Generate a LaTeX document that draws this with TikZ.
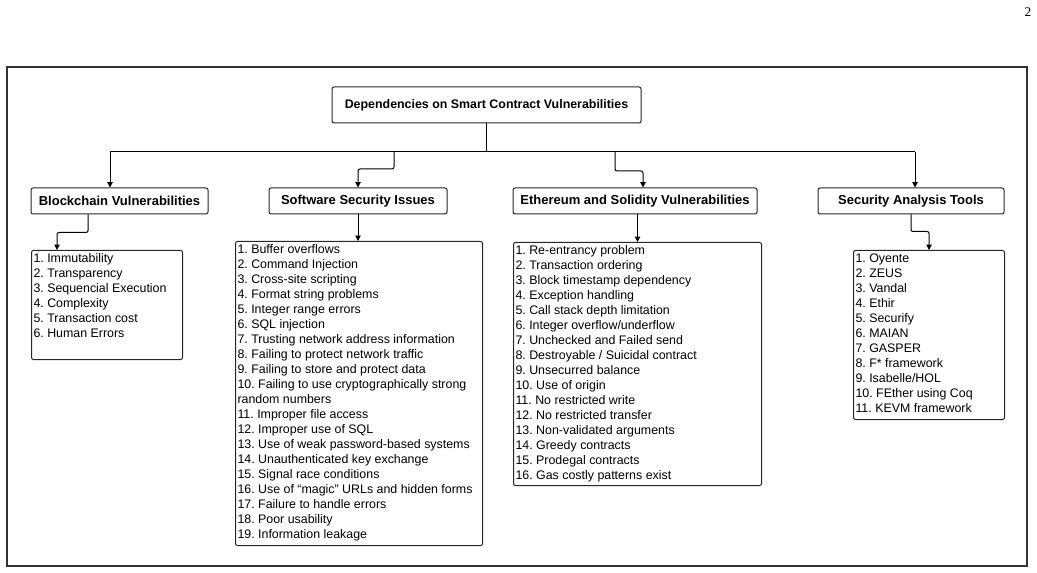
\documentclass[tikz,border=0pt]{standalone}
\usepackage{fontspec}
\setmainfont{Liberation Sans}
\newfontfamily\pagefont{Liberation Serif}
\usetikzlibrary{arrows.meta}
\frenchspacing
\tikzstyle{hdr}=[draw=black!85,line width=.75pt,rounded corners=1.5pt,inner sep=0pt,font=\fontsize{9.75}{11}\bfseries\selectfont]
\tikzstyle{lst}=[draw=black!85,line width=.75pt,rounded corners=1.5pt,anchor=north west,inner xsep=1.5pt,inner ysep=2.5pt,font=\fontsize{9.3}{11.25}\selectfont]
\tikzstyle{conn}=[line width=.75pt,rounded corners=1.5pt]
\tikzstyle{tip}=[conn,-{Triangle[length=4pt,width=4pt]}]
\newcommand\items[3]{\parbox[t][#2][t]{#1}{\raggedright\frenchspacing #3}}

\begin{document}
\begin{tikzpicture}[x=0.75pt,y=-0.75pt]
	\useasboundingbox (0,0) rectangle (1037,573);
	\node[font=\pagefont\fontsize{10}{12}\selectfont] (pg) at (1028,12) {2};
	\draw[line width=.85pt,black!80] (7,67) rectangle (1027,566);
	% headings
	\node[hdr,minimum width=231.75pt,minimum height=27pt,font=\fontsize{9.3}{11}\bfseries\selectfont] (title) at (486.5,105) {Dependencies on Smart Contract Vulnerabilities};
	\node[hdr,minimum width=132.75pt,minimum height=19.5pt] (bc)  at (119.5,201) {Blockchain Vulnerabilities};
	\node[hdr,minimum width=133.5pt, minimum height=19.5pt] (ss)  at (358,201)   {Software Security Issues};
	\node[hdr,minimum width=183pt,   minimum height=19.5pt] (eth) at (635,201)   {Ethereum and Solidity Vulnerabilities};
	\node[hdr,minimum width=139.5pt, minimum height=19.5pt] (sat) at (911,201)   {Security Analysis Tools};
	% lists
	\node[lst] (bcl) at (31,250) {\items{110.25pt}{76.75pt}{1. Immutability\\2. Transparency\\3. Sequencial Execution\\4. Complexity\\5. Transaction cost\\6. Human Errors}};
	\node[lst] (ssl) at (235,241) {\items{182.25pt}{223pt}{1. Buffer overflows\\2. Command Injection\\3. Cross-site scripting\\4. Format string problems\\5. Integer range errors\\6. SQL injection\\7. Trusting network address information\\8. Failing to protect network traffic\\9. Failing to store and protect data\\10. Failing to use cryptographically strong\\random numbers\\11. Improper file access\\12. Improper use of SQL\\13. Use of weak password-based systems\\14. Unauthenticated key exchange\\15. Signal race conditions\\16. Use of “magic” URLs and hidden forms\\17. Failure to handle errors\\18. Poor usability\\19. Information leakage}};
	\node[lst] (ethl) at (513,242) {\items{183pt}{177.25pt}{1. Re-entrancy problem\\2. Transaction ordering\\3. Block timestamp dependency\\4. Exception handling\\5. Call stack depth limitation\\6. Integer overflow/underflow\\7. Unchecked and Failed send\\8. Destroyable / Suicidal contract\\9. Unsecurred balance\\10. Use of origin\\11. No restricted write\\12. No restricted transfer\\13. Non-validated arguments\\14. Greedy contracts\\15. Prodegal contracts\\16. Gas costly patterns exist}};
	\node[lst] (satl) at (853,250) {\items{110.25pt}{121.75pt}{1. Oyente\\2. ZEUS\\3. Vandal\\4. Ethir\\5. Securify\\6. MAIAN\\7. GASPER\\8. F* framework\\9. Isabelle/HOL\\10. FEther using Coq\\11. KEVM framework}};
	% connectors
	\coordinate (j1) at (110,152);
	\coordinate (j2) at (394,152);
	\coordinate (j3) at (615,152);
	\coordinate (j4) at (915,152);
	\draw[conn] (title.south) -- (title.south |- j1);
	\draw[conn] (j1) -- (j4);
	\draw[tip] (j1) -- (j1 |- bc.north);
	\draw[tip] (j2) -- ++(0,17) -| (ss.north);
	\draw[tip] (j3) -- ++(0,19) -| ([xshift=6pt]eth.north);
	\draw[tip] (j4) -- (j4 |- sat.north);
	\draw[tip] ([xshift=-23.6pt]bc.south) -- ++(0,18) -| ([xshift=19.5pt]bcl.north west);
	\draw[tip] (ss.south) -- (ss.south |- ssl.north);
	\draw[tip] (eth.south -| ethl.north) -- (ethl.north);
	\draw[tip] (sat.south) -- ++(0,17) -| (satl.north);
\end{tikzpicture}
\end{document}
